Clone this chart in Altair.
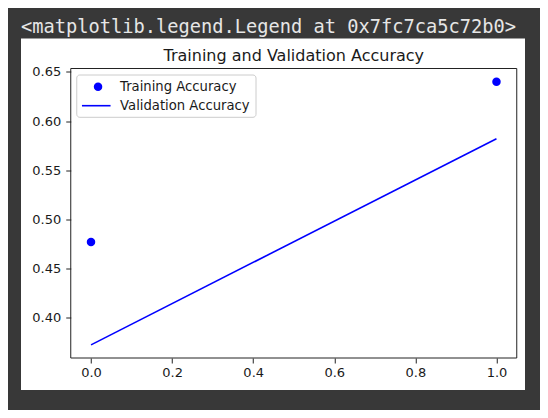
import altair as alt
import pandas as pd

# values
epochs = [0, 1]
train_acc = [0.477, 0.640]
val_acc = [0.3725, 0.582]
x_ticks = [0.0, 0.2, 0.4, 0.6, 0.8, 1.0]
y_ticks = [0.40, 0.45, 0.50, 0.55, 0.60, 0.65]
title_text = "Training and Validation Accuracy"
cell_output = "<matplotlib.legend.Legend at 0x7fc7ca5c72b0>"

train = pd.DataFrame({"epoch": epochs, "acc": train_acc, "series": "Training Accuracy"})
val = pd.DataFrame({"epoch": epochs, "acc": val_acc, "series": "Validation Accuracy"})
one = pd.DataFrame({"k": [0]})

# matplotlib default 5% data margins
all_acc = train_acc + val_acc
y_span = max(all_acc) - min(all_acc)
y_dom = [min(all_acc) - 0.05 * y_span, max(all_acc) + 0.05 * y_span]
x_span = max(epochs) - min(epochs)
x_dom = [min(epochs) - 0.05 * x_span, max(epochs) + 0.05 * x_span]

W, H = 446, 289.5
FONT = "DejaVu Sans"
INK = "#1a1a1a"
BLUE = "#0000ff"

x_enc = alt.X("epoch:Q", scale=alt.Scale(domain=x_dom, nice=False, zero=False),
              axis=alt.Axis(values=x_ticks, format=".1f", title=None, labelPadding=3, zindex=1))
y_enc = alt.Y("acc:Q", scale=alt.Scale(domain=y_dom, nice=False, zero=False),
              axis=alt.Axis(values=y_ticks, format=".2f", title=None, labelPadding=5, zindex=1))

# white figure area on the dark notebook background
figure_bg = alt.Chart(one).mark_rect(color="white").encode(
    x=alt.value(-49.75), x2=alt.value(454.25), y=alt.value(-30), y2=alt.value(321.5))

header = alt.Chart(one).mark_text(
    text=cell_output, font="DejaVu Sans Mono", fontSize=18.7, color="#e6e6e6",
    align="left", baseline="alphabetic").encode(x=alt.value(-49.75), y=alt.value(-36))

title = alt.Chart(one).mark_text(
    text=title_text, font=FONT, fontSize=16, color=INK,
    align="center", baseline="alphabetic").encode(x=alt.value(W / 2), y=alt.value(-8))

frame = alt.Chart(one).mark_rect(filled=False, stroke="#222222", strokeWidth=1).encode(
    x=alt.value(0), x2=alt.value(W), y=alt.value(0), y2=alt.value(H))

legend_box = alt.Chart(one).mark_rect(fill="white", stroke="#cccccc", strokeWidth=1, cornerRadius=3).encode(
    x=alt.value(6), x2=alt.value(185.25), y=alt.value(6.5), y2=alt.value(48.8))

line = alt.Chart(val).mark_line(strokeWidth=1.6).encode(
    x=x_enc, y=y_enc,
    stroke=alt.Stroke("series:N", scale=alt.Scale(domain=["Validation Accuracy"], range=[BLUE]),
                      legend=alt.Legend(title=None, orient="none", legendX=10, legendY=21.7,
                                        symbolType="stroke", symbolSize=818, symbolStrokeWidth=1.6,
                                        labelOffset=8.3, padding=0)))

points = alt.Chart(train).mark_point(filled=True, size=72, opacity=1).encode(
    x=x_enc, y=y_enc,
    fill=alt.Fill("series:N", scale=alt.Scale(domain=["Training Accuracy"], range=[BLUE]),
                  legend=alt.Legend(title=None, orient="none", legendX=20.7, legendY=11.7,
                                    symbolType="circle", symbolSize=72,
                                    labelOffset=15.4, padding=0)))

chart = alt.layer(figure_bg, header, title, frame, legend_box, line, points).properties(
    width=W, height=H,
    background="#383838",
    autosize=alt.AutoSizeParams(type="none"),
    padding={"left": 62.75, "top": 60.5, "right": 23.25, "bottom": 52},
).configure_view(
    strokeWidth=0
).configure_axis(
    grid=False, domain=False,
    tickSize=5, tickColor="#222222", tickWidth=1,
    labelFont=FONT, labelFontSize=13, labelColor=INK,
).configure_legend(
    labelFont=FONT, labelFontSize=13.2, labelColor=INK,
)

chart.save("out.html", embed_options={"renderer": "svg", "actions": False})
